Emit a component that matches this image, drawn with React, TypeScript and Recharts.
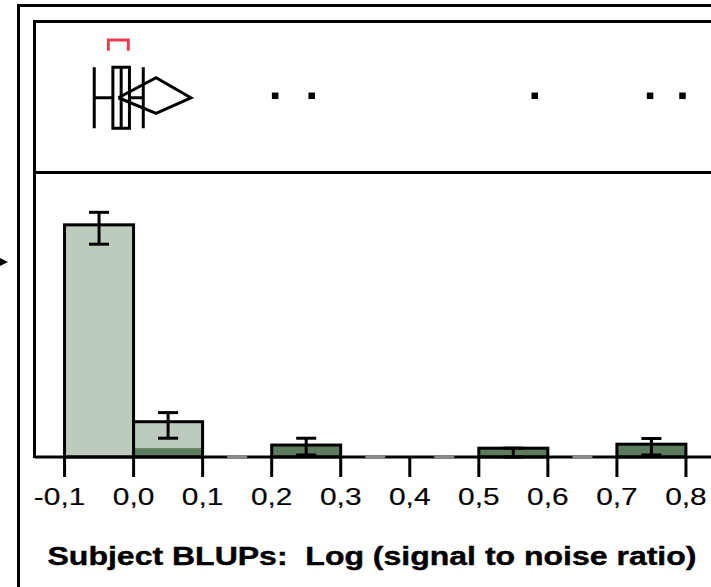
import React from 'react';
import { ComposedChart, Bar, ErrorBar, Scatter, XAxis, YAxis, ReferenceLine, ReferenceArea } from 'recharts';

// histogram: lower bin edges and bar heights (share of plot height)
const binStart = [-0.1, 0.0, 0.1, 0.2, 0.3, 0.4, 0.5, 0.6, 0.7];
const binHeight = [0.816, 0.124, 0, 0.042, 0, 0, 0.031, 0, 0.045];
const binShaded = [0, 0.031, 0, 0.042, 0, 0, 0.031, 0, 0.045];
const errLow = [0.068, 0.058, 0, 0.035, 0, 0, 0.031, 0, 0.038];
const errHigh = [0.044, 0.032, 0, 0.024, 0, 0, 0, 0, 0.02];
const binWidth = 0.1;

const xTicks = [-0.1, 0, 0.1, 0.2, 0.3, 0.4, 0.5, 0.6, 0.7, 0.8];

// outlier box plot summary
const whiskerLow = -0.057;
const quartile1 = -0.03;
const median = -0.018;
const quartile3 = -0.006;
const whiskerHigh = 0.014;
const meanValue = 0.0325;
const meanCI = [-0.022, 0.083];
const shortestHalf = [-0.0366, -0.0077];
const outliers = [0.205, 0.258, 0.581, 0.748, 0.795];

const TITLE = 'Subject BLUPs:  Log (signal to noise ratio)';

const X_DOMAIN: [number, number] = [-0.1428, 0.9];
const W = 755;
const LIGHT = '#bccbbc';
const DARK = '#5e7a5e';
const FONT = '"Liberation Sans", Arial, sans-serif';

// vertical levels inside the box plot panel (0 bottom .. 1 top)
const L = { mid: 0.495, dot: 0.508, boxLo: 0.293, boxHi: 0.697, diaLo: 0.392, diaHi: 0.628, brLo: 0.807, brHi: 0.877 };

const barData = binStart
  .map((s, i) => ({ x: s + binWidth / 2, value: binHeight[i], shaded: binShaded[i], err: [errLow[i], errHigh[i]] }))
  .filter((d) => d.value > 0);
const emptyBins = binStart.map((s, i) => ({ x: s + binWidth / 2, y: 0, n: binHeight[i] })).filter((d) => d.n === 0);

const diamond = [
  { x: meanCI[0], y: L.mid },
  { x: meanValue, y: L.diaHi },
  { x: meanCI[1], y: L.mid },
  { x: meanValue, y: L.diaLo },
  { x: meanCI[0], y: L.mid },
];
const bracket = [
  { x: shortestHalf[0], y: L.brLo },
  { x: shortestHalf[0], y: L.brHi },
  { x: shortestHalf[1], y: L.brHi },
  { x: shortestHalf[1], y: L.brLo },
];
const dots = outliers.map((v) => ({ x: v, y: L.dot }));

const fmt = (v: number) => v.toFixed(1).replace('.', ',');

const HistBar = (p: any) => {
  const { x, y, width, height, payload } = p;
  if (!height) return <g />;
  const dark = (height * payload.shaded) / payload.value;
  return (
    <g>
      <rect x={x} y={y} width={width} height={height} fill={LIGHT} />
      {dark > 0 && <rect x={x} y={y + height - dark} width={width} height={dark} fill={DARK} />}
      <rect x={x} y={y} width={width} height={height} fill="none" stroke="#000" strokeWidth={3} />
    </g>
  );
};

const EmptyDash = (p: any) => (
  <line x1={p.cx - 10} x2={p.cx + 10} y1={p.cy} y2={p.cy} stroke="#8a8a8a" strokeWidth={3} />
);

const Dot = (p: any) => <rect x={p.cx - 3.25} y={p.cy - 3.25} width={6.5} height={6.5} fill="#000" />;

// number is centred on the tick, a leading minus hangs to the left
const StretchTick = (p: any) => (
  <g transform={`translate(${p.x},${p.y}) scale(1.3,1)`}>
    <text
      x={0}
      y={0}
      dy="0.7em"
      dx={p.payload.value < 0 ? '-0.167em' : 0}
      textAnchor="middle"
      fontFamily={FONT}
      fontSize={23}
      fill="#000"
      stroke="#000"
      strokeWidth={0.15}
    >
      {fmt(p.payload.value)}
    </text>
  </g>
);

const seg = (x1: number, y1: number, x2: number, y2: number, key: string) => (
  <ReferenceLine key={key} segment={[{ x: x1, y: y1 }, { x: x2, y: y2 }]} stroke="#000" strokeWidth={3} />
);

export default function App() {
  const line = { position: 'absolute' as const, background: '#000' };
  return (
    <div style={{ position: 'fixed', left: 0, top: 0, width: 711, height: 587, overflow: 'hidden', background: '#fff' }}>
      {/* frames */}
      <div style={{ position: 'absolute', left: 17, top: 4, width: 800, height: 700, borderLeft: '3px solid #000', borderTop: '3px solid #000' }} />
      <div style={{ position: 'absolute', left: 33, top: 20, width: 800, height: 148, border: '3px solid #000', borderRight: 'none' }} />
      <div style={{ ...line, left: 33, top: 174, width: 3, height: 284 }} />
      <div style={{ position: 'absolute', left: 0, top: 258, width: 0, height: 0, borderTop: '4px solid transparent', borderBottom: '4px solid transparent', borderLeft: '8px solid #000' }} />

      {/* box plot panel */}
      <div style={{ position: 'absolute', left: 0, top: 0 }}>
        <ComposedChart width={W} height={172.5} margin={{ top: 21.5, right: 0, bottom: 0, left: 35 }}>
          <XAxis type="number" dataKey="x" domain={X_DOMAIN} hide allowDataOverflow />
          <YAxis type="number" dataKey="y" domain={[0, 1]} hide />
          {seg(whiskerLow, L.boxLo, whiskerLow, L.boxHi, 'wl')}
          {seg(whiskerHigh, L.boxLo, whiskerHigh, L.boxHi, 'wh')}
          {seg(whiskerLow, L.mid, quartile1, L.mid, 'hl')}
          {seg(quartile3, L.mid, whiskerHigh, L.mid, 'hh')}
          {seg(median, L.boxLo, median, L.boxHi, 'md')}
          <ReferenceArea x1={quartile1} x2={quartile3} y1={L.boxLo} y2={L.boxHi} fill="none" fillOpacity={0} stroke="#000" strokeWidth={3} />
          <Scatter data={diamond} line={{ stroke: '#000', strokeWidth: 3, strokeLinejoin: 'miter' }} shape={() => <g />} isAnimationActive={false} />
          <Scatter data={bracket} line={{ stroke: '#ef3b4f', strokeWidth: 3, strokeLinejoin: 'miter' }} shape={() => <g />} isAnimationActive={false} />
          <Scatter data={dots} shape={<Dot />} isAnimationActive={false} />
        </ComposedChart>
      </div>

      {/* histogram panel */}
      <div style={{ position: 'absolute', left: 0, top: 0 }}>
        <ComposedChart width={W} height={587} data={barData} margin={{ top: 172.5, right: 0, bottom: 90, left: 35 }} barCategoryGap={0} barGap={0}>
          <XAxis
            type="number"
            dataKey="x"
            domain={X_DOMAIN}
            ticks={xTicks}
            interval={0}
            height={40}
            tickSize={20}
            tickMargin={12}
            axisLine={{ stroke: '#000', strokeWidth: 3 }}
            tickLine={{ stroke: '#000', strokeWidth: 3 }}
            tick={<StretchTick />}
            allowDataOverflow
          />
          <YAxis type="number" dataKey="y" domain={[0, 1]} hide />
          <Bar dataKey="value" shape={<HistBar />} isAnimationActive={false}>
            <ErrorBar dataKey="err" width={10} stroke="#000" strokeWidth={3} direction="y" />
          </Bar>
          <Scatter data={emptyBins} shape={<EmptyDash />} isAnimationActive={false} />
        </ComposedChart>
      </div>

      <div
        style={{
          position: 'absolute',
          left: 0,
          top: 544,
          width: 744,
          textAlign: 'center',
          whiteSpace: 'pre',
          fontFamily: FONT,
          fontWeight: 'bold',
          fontSize: 25,
          lineHeight: '25px',
          WebkitTextStroke: '0.4px #000',
          transform: 'scaleX(1.28)',
          transformOrigin: '372px 0',
        }}
      >
        {TITLE}
      </div>
    </div>
  );
}
